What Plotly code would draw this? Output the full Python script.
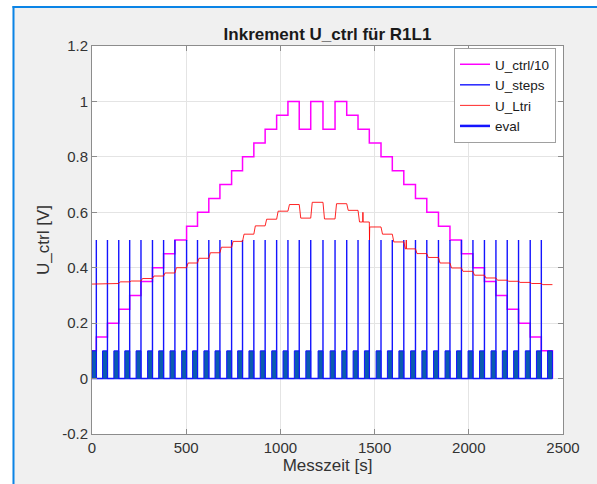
import plotly.graph_objects as go

# ---------------- data ----------------
# times [s] of the U_steps spikes (step changes of U_ctrl)
step_times = [23, 82, 142, 200, 260, 321, 380, 440, 502, 560,
              620, 679, 741, 799, 859, 919, 980, 1040, 1100, 1161,
              1226, 1290, 1352, 1412, 1472, 1534, 1594, 1655, 1717, 1777,
              1839, 1900, 1961, 2022, 2083, 2144, 2204, 2264, 2326, 2385]
end_time = 2444
spike_height = 0.5

# U_ctrl/10 level in each interval (before first step ... after last step)
u_ctrl10 = [0.10, 0.15, 0.20, 0.25, 0.30, 0.35, 0.40, 0.45, 0.50, 0.55,
            0.60, 0.65, 0.70, 0.75, 0.80, 0.85, 0.90, 0.95, 1.00, 0.90,
            1.00, 0.90, 1.00, 0.95, 0.90, 0.85, 0.80, 0.75, 0.70, 0.65,
            0.60, 0.55, 0.50, 0.45, 0.40, 0.35, 0.30, 0.25, 0.20, 0.15,
            0.10]

# U_Ltri level in each interval
u_ltri = [0.341, 0.343, 0.343, 0.349, 0.352, 0.361, 0.370, 0.381, 0.400, 0.417,
          0.434, 0.454, 0.474, 0.495, 0.521, 0.551, 0.575, 0.604, 0.628, 0.579,
          0.636, 0.576, 0.631, 0.607, 0.565, 0.547, 0.521, 0.493, 0.468, 0.451,
          0.437, 0.417, 0.399, 0.387, 0.373, 0.363, 0.355, 0.351, 0.347, 0.343,
          0.339]
# short glitches in U_Ltri
ltri_glitch_t = [1438, 1473, 1668]
ltri_glitch_v = [0.600, 0.500, 0.500]

# eval pulses: height and duration, each ends at a step (plus one at the end)
eval_height = 0.1
eval_duration = 26
eval_ends = step_times + [end_time]

x_ticks = [0, 500, 1000, 1500, 2000, 2500]
y_ticks = [-0.2, 0, 0.2, 0.4, 0.6, 0.8, 1.0, 1.2]
y_ticklabels = ["-0.2", "0", "0.2", "0.4", "0.6", "0.8", "1", "1.2"]

# ---------------- build traces ----------------
# U_ctrl/10 (staircase)
mx = [0] + step_times + [end_time]
my = u_ctrl10 + [0.0]

# U_steps: zero line with spikes
sx, sy = [0], [0]
for t in step_times:
    sx += [t, t, t]
    sy += [0, spike_height, 0]
sx.append(end_time)
sy.append(0)

# U_Ltri: levels with short transitions at step times
bounds = [0] + step_times + [end_time]
rx, ry = [], []
for k, lvl in enumerate(u_ltri):
    a, b = bounds[k], bounds[k + 1]
    start = a + (8 if k > 0 else 0)
    pts = [(start, lvl)]
    for gt, gv in zip(ltri_glitch_t, ltri_glitch_v):
        if a < gt < b:
            pts += [(gt - 1, lvl), (gt, gv), (gt + 1, lvl)]
    pts.append((b, lvl))
    pts.sort()
    for p in pts:
        rx.append(p[0])
        ry.append(p[1])

# eval pulses
ex, ey = [0], [0]
for e in eval_ends:
    s = max(0, e - eval_duration)
    ex += [s, s, e, e]
    ey += [0, eval_height, eval_height, 0]

fig = go.Figure()
fig.add_trace(go.Scatter(x=mx, y=my, mode="lines", line_shape="hv",
                         line=dict(color="#FF00FF", width=1.5), name="U_ctrl/10"))
fig.add_trace(go.Scatter(x=sx, y=sy, mode="lines",
                         line=dict(color="#1414FF", width=1.4), name="U_steps"))
fig.add_trace(go.Scatter(x=rx, y=ry, mode="lines",
                         line=dict(color="rgba(255,0,0,0.85)", width=1), name="U_Ltri"))
fig.add_trace(go.Scatter(x=ex, y=ey, mode="lines", fill="tozeroy",
                         fillcolor="#0A5CB0", line=dict(color="#1414FF", width=1),
                         showlegend=False, hoverinfo="skip"))
fig.add_trace(go.Scatter(x=[None], y=[None], mode="lines",
                         line=dict(color="#1414FF", width=2.5), name="eval"))

# ---------------- layout ----------------
W, H = 597, 484
L, R, T, B = 92, 34, 46, 50
pw, ph = W - L - R, H - T - B


def px_x(p):
    return (p - L) / pw


def px_y(p):
    return (H - B - p) / ph


font_family = "Liberation Sans, Arial, sans-serif"
axis_common = dict(showline=True, linecolor="#8C8C8C", linewidth=1, mirror="ticks",
                   ticks="inside", ticklen=5, tickcolor="#8C8C8C",
                   showgrid=True, gridcolor="#E4E4E4", gridwidth=1, zeroline=False,
                   tickfont=dict(family=font_family, size=15, color="#333333"))

fig.update_layout(
    width=W, height=H,
    margin=dict(l=L, r=R, t=T, b=B),
    paper_bgcolor="#F0F0F0", plot_bgcolor="#FFFFFF",
    title=dict(text="Inkrement U_ctrl für R1L1", x=0.5, xref="paper",
               y=1 - 34 / H, yref="container", yanchor="middle", xanchor="center",
               font=dict(family=font_family, size=17, color="#1A1A1A", weight="bold")),
    xaxis=dict(range=[0, 2500], tickvals=x_ticks,
               title=dict(text="Messzeit [s]", standoff=4,
                          font=dict(family=font_family, size=17, color="#333333")),
               **axis_common),
    yaxis=dict(range=[-0.2, 1.2], tickvals=y_ticks, ticktext=y_ticklabels,
               title=dict(text="U_ctrl [V]", standoff=8,
                          font=dict(family=font_family, size=17, color="#333333")),
               **axis_common),
    legend=dict(x=px_x(556), y=px_y(48), xanchor="right", yanchor="top",
                bgcolor="#FFFFFF", bordercolor="#A0A0A0", borderwidth=1,
                font=dict(family=font_family, size=13.5, color="#1A1A1A"),
                itemwidth=30, tracegroupgap=0),
    showlegend=True,
)

# window frame: white outside, blue edge on left and top
shapes = [
    dict(type="rect", xref="paper", yref="paper", x0=px_x(-5), x1=px_x(12.5),
         y0=px_y(H + 5), y1=px_y(-5), fillcolor="#FFFFFF", line=dict(width=0), layer="above"),
    dict(type="rect", xref="paper", yref="paper", x0=px_x(-5), x1=px_x(W + 5),
         y0=px_y(6), y1=px_y(-5), fillcolor="#FFFFFF", line=dict(width=0), layer="above"),
    dict(type="line", xref="paper", yref="paper", x0=px_x(13.5), x1=px_x(13.5),
         y0=px_y(6), y1=px_y(H + 5), line=dict(color="#0B84E6", width=2), layer="above"),
    dict(type="line", xref="paper", yref="paper", x0=px_x(12.5), x1=px_x(W + 5),
         y0=px_y(7), y1=px_y(7), line=dict(color="#0B84E6", width=2), layer="above"),
]
fig.update_layout(shapes=shapes)

fig.write_html("out.html")
